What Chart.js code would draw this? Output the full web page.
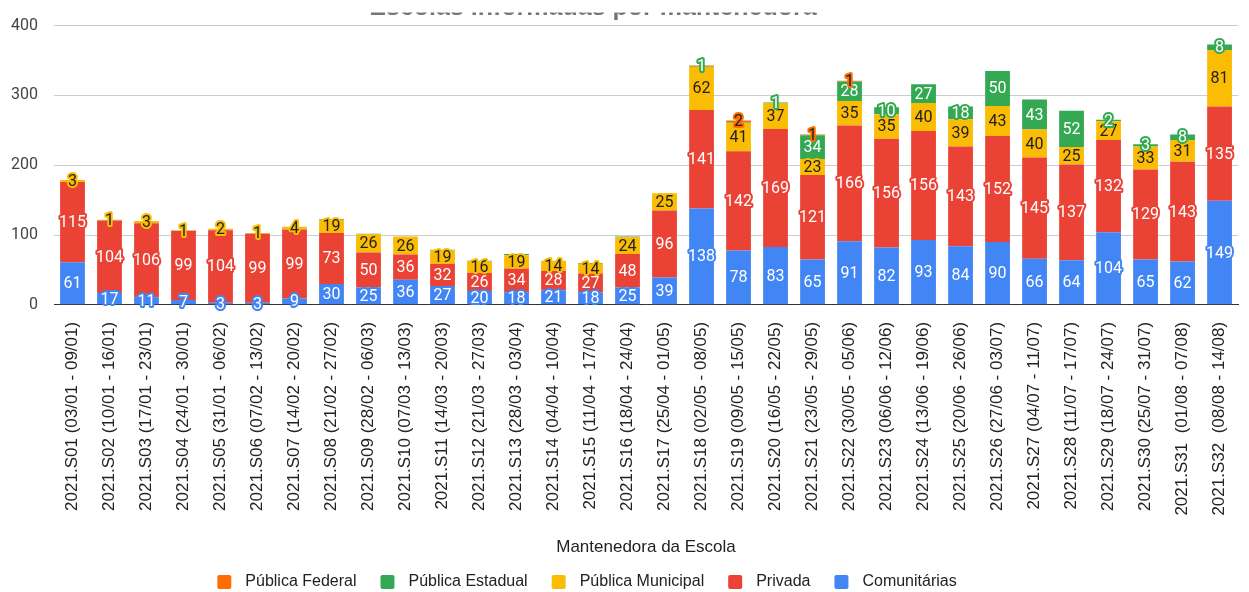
<!DOCTYPE html>
<html>
<head>
<meta charset="utf-8">
<script src="https://cdn.jsdelivr.net/npm/chart.js@4"></script>
<style>
  html, body { margin: 0; padding: 0; background: #fff; }
  #chart { display: block; }
</style>
</head>
<body>
<canvas id="chart" width="1249" height="592"></canvas>
<script>
// Escolas informadas por mantenedora - semanas 2021
const categories = [
  '2021.S01 (03/01 - 09/01)', '2021.S02 (10/01 - 16/01)', '2021.S03 (17/01 - 23/01)',
  '2021.S04 (24/01 - 30/01)', '2021.S05 (31/01 - 06/02)', '2021.S06 (07/02 - 13/02)',
  '2021.S07 (14/02 - 20/02)', '2021.S08 (21/02 - 27/02)', '2021.S09 (28/02 - 06/03)',
  '2021.S10 (07/03 - 13/03)', '2021.S11 (14/03 - 20/03)', '2021.S12 (21/03 - 27/03)',
  '2021.S13 (28/03 - 03/04)', '2021.S14 (04/04 - 10/04)', '2021.S15 (11/04 - 17/04)',
  '2021.S16 (18/04 - 24/04)', '2021.S17 (25/04 - 01/05)', '2021.S18 (02/05 - 08/05)',
  '2021.S19 (09/05 - 15/05)', '2021.S20 (16/05 - 22/05)', '2021.S21 (23/05 - 29/05)',
  '2021.S22 (30/05 - 05/06)', '2021.S23 (06/06 - 12/06)', '2021.S24 (13/06 - 19/06)',
  '2021.S25 (20/06 - 26/06)', '2021.S26 (27/06 - 03/07)', '2021.S27 (04/07 - 11/07)',
  '2021.S28 (11/07 - 17/07)', '2021.S29 (18/07 - 24/07)', '2021.S30 (25/07 - 31/07)',
  '2021.S31  (01/08 - 07/08)', '2021.S32  (08/08 - 14/08)'
];

const comunitarias = [61, 17, 11, 7, 3, 3, 9, 30, 25, 36, 27, 20, 18, 21, 18, 25, 39, 138, 78, 83, 65, 91, 82, 93, 84, 90, 66, 64, 104, 65, 62, 149];
const privada      = [115, 104, 106, 99, 104, 99, 99, 73, 50, 36, 32, 26, 34, 28, 27, 48, 96, 141, 142, 169, 121, 166, 156, 156, 143, 152, 145, 137, 132, 129, 143, 135];
const municipal    = [3, 1, 3, 1, 2, 1, 4, 19, 26, 26, 19, 16, 19, 14, 14, 24, 25, 62, 41, 37, 23, 35, 35, 40, 39, 43, 40, 25, 27, 33, 31, 81];
const estadual     = [0, 0, 0, 0, 0, 0, 0, 1, 1, 0, 1, 1, 2, 0, 1, 1, 0, 1, 1, 1, 34, 28, 10, 27, 18, 50, 43, 52, 2, 3, 8, 8];
const federal      = [0, 0, 0, 0, 0, 0, 0, 0, 0, 0, 0, 0, 0, 0, 0, 0, 0, 1, 2, 0, 1, 1, 0, 0, 0, 0, 0, 0, 0, 0, 0, 0];

const yTicks = [0, 100, 200, 300, 400];

const chartTitle = 'Escolas informadas por mantenedora';
const axisTitle = 'Mantenedora da Escola';

const seriesNames  = ['Comunitárias', 'Privada', 'Pública Municipal', 'Pública Estadual', 'Pública Federal'];
const seriesColors = ['#4285F4', '#EA4335', '#FBBC04', '#34A853', '#FF6D01'];
const labelColors  = ['#fff', '#fff', '#222', '#fff', '#222'];
const seriesData   = [comunitarias, privada, municipal, estadual, federal];

const FONT = "'Liberation Sans', Arial, sans-serif";

// title is cut at the top in the original, only its bottom shows
const titlePlugin = {
  id: 'cutTitle',
  afterDraw(chart) {
    const ctx = chart.ctx;
    ctx.save();
    ctx.beginPath();
    ctx.rect(0, 12.5, chart.width, 12);
    ctx.clip();
    ctx.font = 'bold 25px ' + FONT;
    ctx.fillStyle = '#757575';
    ctx.textAlign = 'center';
    ctx.textBaseline = 'alphabetic';
    ctx.fillText(chartTitle, 593, 15);
    ctx.restore();
  }
};

// value labels inside each segment, bigger values first, skip overlaps
const valueLabels = {
  id: 'valueLabels',
  afterDatasetsDraw(chart) {
    const ctx = chart.ctx;
    ctx.save();
    ctx.font = '16px Roboto, ' + FONT;
    ctx.textAlign = 'center';
    ctx.textBaseline = 'middle';
    ctx.lineJoin = 'round';
    categories.forEach((c, j) => {
      const items = [];
      chart.data.datasets.forEach((ds, i) => {
        const v = ds.data[j];
        if (!v) return;
        const bar = chart.getDatasetMeta(i).data[j];
        const { x, y, base } = bar.getProps(['x', 'y', 'base'], true);
        items.push({ v, i, x, cy: (y + base) / 2 });
      });
      items.sort((a, b) => b.v - a.v);
      const drawn = [];
      items.forEach(it => {
        if (drawn.some(d => Math.abs(d.cy - it.cy) < 10)) return;
        drawn.push(it);
        ctx.lineWidth = 4;
        ctx.strokeStyle = seriesColors[it.i];
        ctx.strokeText(String(it.v), it.x, it.cy + 1);
        ctx.fillStyle = labelColors[it.i];
        ctx.fillText(String(it.v), it.x, it.cy + 1);
      });
    });
    ctx.restore();
  }
};

// legend drawn by hand so spacing follows the original
const bottomLegend = {
  id: 'bottomLegend',
  afterDraw(chart) {
    const ctx = chart.ctx;
    ctx.save();
    ctx.font = '16px ' + FONT;
    ctx.textBaseline = 'middle';
    const order = [4, 3, 2, 1, 0];
    const box = 14, gapText = 14, gapItem = 24;
    const widths = order.map(i => ctx.measureText(seriesNames[i]).width);
    let total = widths.reduce((s, w) => s + box + gapText + w, 0) + gapItem * (order.length - 1);
    let x = 587 - total / 2;
    const cy = 582;
    order.forEach((i, k) => {
      ctx.fillStyle = seriesColors[i];
      ctx.beginPath();
      ctx.roundRect(x, cy - box / 2, box, box, 2);
      ctx.fill();
      ctx.fillStyle = '#222';
      ctx.fillText(seriesNames[i], x + box + gapText, cy);
      x += box + gapText + widths[k] + gapItem;
    });
    ctx.restore();
  }
};

new Chart(document.getElementById('chart'), {
  type: 'bar',
  data: {
    labels: categories,
    datasets: seriesNames.map((name, i) => ({
      label: name,
      data: seriesData[i],
      backgroundColor: seriesColors[i],
      borderWidth: 0,
      barPercentage: 0.67,
      categoryPercentage: 1.0
    }))
  },
  options: {
    responsive: false,
    animation: false,
    layout: { padding: { top: 23, right: 3, bottom: 30, left: 0 } },
    plugins: {
      legend: { display: false },
      title: { display: false },
      tooltip: { enabled: false }
    },
    scales: {
      x: {
        stacked: true,
        grid: { display: false },
        border: { display: true, color: '#333', width: 1 },
        ticks: {
          autoSkip: false,
          minRotation: 90,
          maxRotation: 90,
          padding: 9,
          color: '#222',
          font: { family: FONT, size: 17 }
        },
        title: {
          display: true,
          text: axisTitle,
          color: '#222',
          font: { family: FONT, size: 17 },
          padding: { top: 13, bottom: 4 }
        }
      },
      y: {
        stacked: true,
        min: 0,
        max: 400,
        afterFit(scale) { scale.width = 54; },
        afterBuildTicks(scale) { scale.ticks = yTicks.map(v => ({ value: v })); },
        grid: { color: '#cccccc', drawTicks: false },
        border: { display: false },
        ticks: {
          padding: 16,
          color: '#444',
          font: { family: "Roboto, " + FONT, size: 16 }
        }
      }
    }
  },
  plugins: [valueLabels, titlePlugin, bottomLegend]
});
</script>
</body>
</html>
